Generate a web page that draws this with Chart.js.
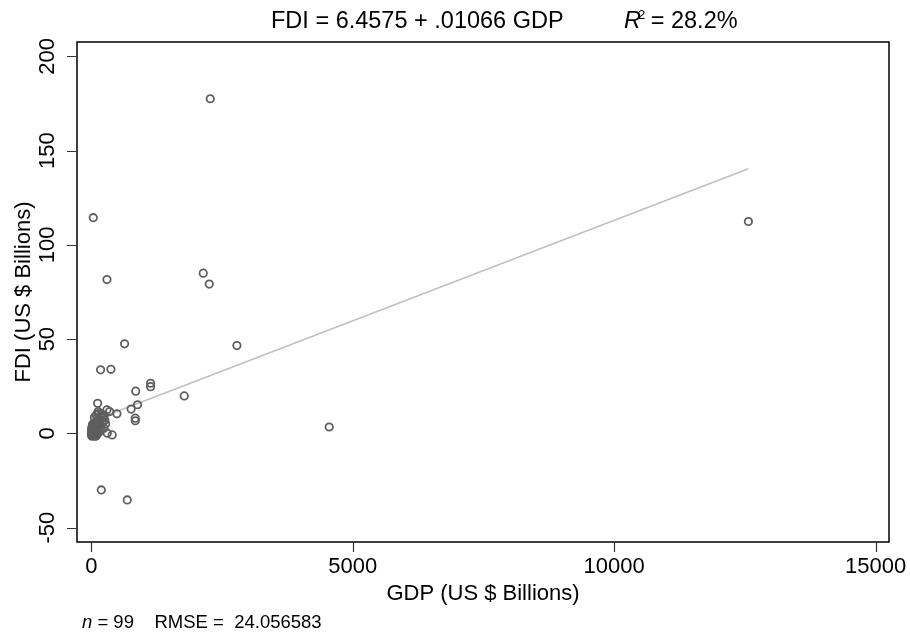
<!DOCTYPE html>
<html><head><meta charset="utf-8">
<script src="https://cdn.jsdelivr.net/npm/chart.js@4.4.1/dist/chart.umd.min.js"></script>
<style>html,body{margin:0;padding:0;background:#fff;}</style>
</head><body>
<canvas id="c" width="910" height="634" style="width:910px;height:634px;display:block"></canvas>
<script>
// GDP (US $ Billions)
const gdp = [
  2275, 38, 300, 2141, 2256, 637, 2785, 12566, 4550, 1778,
  191, 688, 178, 376, 1134, 1134, 850, 885, 762, 841,
  841, 491, 400, 122, 300, 350, 243, 130, 306,
  60, 95, 150, 180, 210, 230, 260, 120, 80, 170, 200, 275, 140, 250, 110,
  20, 35, 50, 70, 90, 100, 130, 160, 40, 15, 65, 25, 55, 190, 115,
  5, 8, 10, 12, 18, 22, 28, 30, 33, 38, 42, 45, 48, 52, 58, 62, 68, 72, 78, 85,
  88, 95, 105, 3, 6, 14, 26, 36, 46, 75, 125, 145, 14, 40, 9, 20, 30, 57, 82, 98
];
// FDI (US $ Billions)
const fdi = [
  177.5, 114.4, 81.6, 85.0, 79.2, 47.5, 46.6, 112.4, 3.4, 19.9,
  -30.0, -35.3, 33.7, 34.0, 26.6, 24.8, 22.4, 15.2, 12.9, 8.1,
  6.7, 10.4, -0.8, 16.0, 12.5, 11.6, 2.8, 11.6, 0.1,
  8.5, 9.8, 7.8, 9.0, 6.3, 8.2, 7.0, 6.0, 5.5, 4.8, 10.2, 5.0, 10.5, 9.6, 8.0,
  3.5, 4.2, 2.5, 3.8, 4.5, 2.2, 3.2, 2.8, 2.0, 2.6, 1.8, 4.8, 5.2, 3.5, 4.0,
  0.3, 1.1, -0.5, 0.8, 0.2, 1.5, -0.8, 0.6, 1.2, -0.2, 0.9, 0.1, 1.6, -1.2, 0.5, 1.0, -0.3, 0.7, 1.3, -0.6,
  0.4, 1.8, 0.2, 0.0, -1.0, -1.5, 0.4, -1.1, -0.4, -1.5, 1.0, 0.5, 1.9, 0.3, 2.9, -0.1, 2.2, 2.9, 2.4, -1.3
];
const xTicks = [0, 5000, 10000, 15000];
const yTicks = [-50, 0, 50, 100, 150, 200];
const fitIntercept = 6.4575;
const fitSlope = 0.01066;
const xTitle = "GDP (US $ Billions)";
const yTitle = "FDI (US $ Billions)";
const titleMain = "FDI = 6.4575 + .01066 GDP";
const titleR2 = " = 28.2%";
const noteN = "n";
const noteRest = " = 99    RMSE =  24.056583";

const points = gdp.map((g, i) => ({x: g, y: fdi[i]}));
const gMin = Math.min(...gdp), gMax = Math.max(...gdp);
const fitLine = [{x: gMin, y: fitIntercept + fitSlope * gMin}, {x: gMax, y: fitIntercept + fitSlope * gMax}];

const FONT = "'Liberation Sans', Arial, Helvetica, sans-serif";

const decor = {
  id: 'decor',
  afterDraw(chart) {
    const ctx = chart.ctx, a = chart.chartArea;
    const xs = chart.scales.x, ys = chart.scales.y;
    ctx.save();
    // plot box
    ctx.strokeStyle = '#000';
    ctx.lineWidth = 1.5;
    ctx.strokeRect(a.left, a.top, a.right - a.left, a.bottom - a.top);
    // tick marks
    ctx.strokeStyle = '#333';
    ctx.lineWidth = 1.2;
    ctx.beginPath();
    xTicks.forEach(v => { const px = Math.round(xs.getPixelForValue(v)) + 0.5; ctx.moveTo(px, a.bottom); ctx.lineTo(px, a.bottom + 10); });
    yTicks.forEach(v => { const py = Math.round(ys.getPixelForValue(v)) + 0.5; ctx.moveTo(a.left, py); ctx.lineTo(a.left - 10, py); });
    ctx.stroke();
    ctx.fillStyle = '#000';
    // x tick labels
    ctx.font = '22px ' + FONT;
    ctx.textAlign = 'center';
    ctx.textBaseline = 'alphabetic';
    xTicks.forEach(v => ctx.fillText(String(v), xs.getPixelForValue(v), 573));
    // y tick labels rotated
    yTicks.forEach(v => {
      ctx.save();
      ctx.translate(54, ys.getPixelForValue(v));
      ctx.rotate(-Math.PI / 2);
      ctx.fillText(String(v), 0, 0);
      ctx.restore();
    });
    // axis titles
    ctx.fillText(xTitle, (a.left + a.right) / 2, 600);
    ctx.save();
    ctx.translate(30, (a.top + a.bottom) / 2);
    ctx.rotate(-Math.PI / 2);
    ctx.fillText(yTitle, 0, 0);
    ctx.restore();
    // title
    ctx.textAlign = 'left';
    ctx.font = '23.5px ' + FONT;
    let x = 271;
    const yb = 28;
    ctx.fillText(titleMain, x, yb);
    x = 624;
    ctx.font = 'italic 23.5px ' + FONT;
    ctx.fillText('R', x, yb);
    x += ctx.measureText('R').width - 3;
    ctx.font = '13px ' + FONT;
    ctx.fillText('2', x, yb - 9);
    x += ctx.measureText('2').width - 1;
    ctx.font = '23.5px ' + FONT;
    ctx.fillText(titleR2, x, yb);
    // note
    ctx.font = 'italic 18.5px ' + FONT;
    let nx = 82;
    ctx.fillText(noteN, nx, 628);
    nx += ctx.measureText(noteN).width;
    ctx.font = '18.5px ' + FONT;
    ctx.fillText(noteRest, nx, 628);
    ctx.restore();
  }
};

new Chart(document.getElementById('c'), {
  type: 'scatter',
  data: {
    datasets: [
      { type: 'line', data: fitLine, borderColor: '#c0c0c0', borderWidth: 1.6, pointRadius: 0, fill: false, order: 2 },
      { data: points, pointStyle: 'circle', pointRadius: 3.7, borderWidth: 1.8, borderColor: '#5e5e5e', backgroundColor: 'rgba(0,0,0,0)', order: 1 }
    ]
  },
  options: {
    responsive: false,
    animation: false,
    devicePixelRatio: 1,
    layout: { padding: { top: 42, right: 21, left: 0, bottom: 0 } },
    plugins: { legend: { display: false }, tooltip: { enabled: false }, title: { display: false } },
    scales: {
      x: {
        type: 'linear', min: -273, max: 15255,
        afterBuildTicks: s => { s.ticks = xTicks.map(v => ({value: v})); },
        afterFit: s => { s.height = 92; },
        ticks: { display: false },
        grid: { display: false },
        border: { display: false }
      },
      y: {
        type: 'linear', min: -57.6, max: 207.6,
        afterBuildTicks: s => { s.ticks = yTicks.map(v => ({value: v})); },
        afterFit: s => { s.width = 77; },
        ticks: { display: false },
        grid: { display: false },
        border: { display: false }
      }
    }
  },
  plugins: [decor]
});
</script>
</body></html>
